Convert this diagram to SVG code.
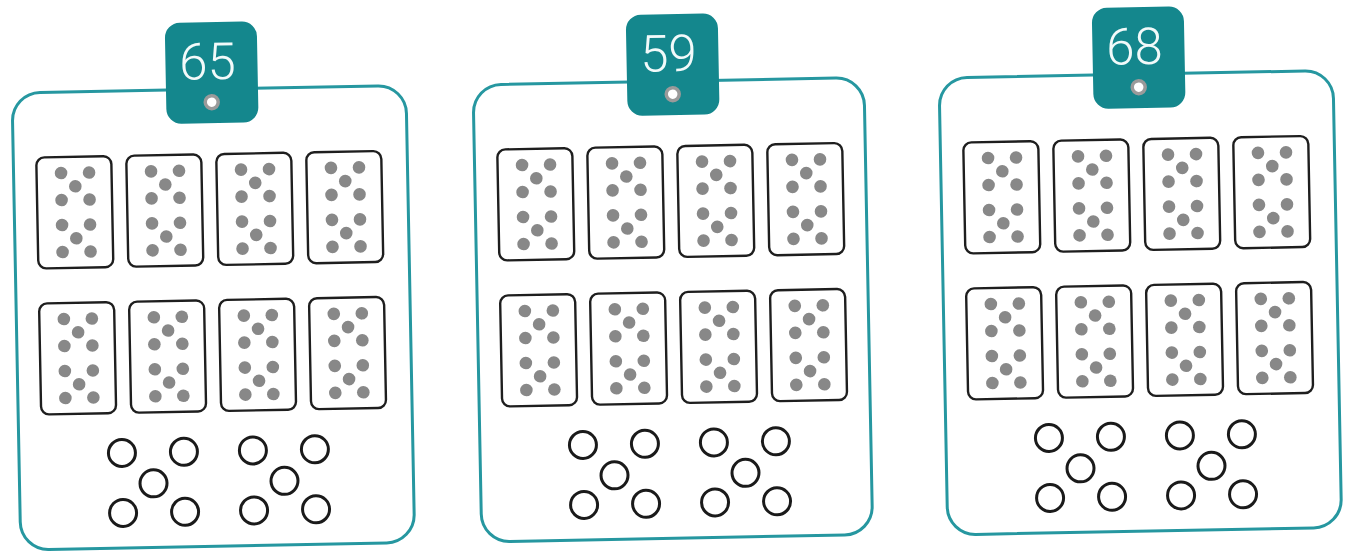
<svg xmlns="http://www.w3.org/2000/svg" width="1348" height="551" viewBox="0 0 1348 551">
<style>
.frame{fill:#fff;stroke:#2697a0;stroke-width:3}
.tag{fill:#14878d}
.num{font-family:Roboto,"Liberation Sans",sans-serif;font-size:51px;font-weight:300;fill:#f2fafa;text-anchor:middle}
.card{fill:#fff;stroke:#1e1e1e;stroke-width:2.4}
.dot{fill:#888}
.ring{fill:none;stroke:#1a1a1a;stroke-width:3}
.eye{fill:#fff;stroke:#9a9a9a;stroke-width:3.5}
</style>
<defs>
<g id="card">
<rect class="card" x="0" y="0" width="75" height="111" rx="8"/>
<g class="dot">
<circle cx="24.5" cy="16" r="6.3"/><circle cx="52.5" cy="16" r="6.3"/><circle cx="38.5" cy="29.5" r="6.3"/><circle cx="24.5" cy="43" r="6.3"/><circle cx="52.5" cy="43" r="6.3"/>
<circle cx="24.5" cy="68" r="6.3"/><circle cx="52.5" cy="68" r="6.3"/><circle cx="38.5" cy="81.5" r="6.3"/><circle cx="24.5" cy="95" r="6.3"/><circle cx="52.5" cy="95" r="6.3"/>
</g>
</g>
<g id="quin" class="ring">
<circle cx="-31" cy="-31" r="13.5"/><circle cx="31" cy="-31" r="13.5"/><circle cx="0" cy="0" r="13.5"/><circle cx="-31" cy="29" r="13.5"/><circle cx="31" cy="29" r="13.5"/>
</g>
<g id="content">
<use href="#card" x="23" y="65"/><use href="#card" x="113" y="65"/><use href="#card" x="203" y="65"/><use href="#card" x="293" y="65"/>
<use href="#card" x="23" y="211"/><use href="#card" x="113" y="211"/><use href="#card" x="203" y="211"/><use href="#card" x="293" y="211"/>
<use href="#quin" x="134" y="393"/><use href="#quin" x="265" y="393"/>
</g>
</defs>
<rect width="1348" height="551" fill="#fff"/>
<g id="panel-65" transform="translate(12,93) rotate(-1.1)">
<rect class="frame" x="0" y="0" width="394" height="457" rx="28"/>
<use href="#content"/>
<rect class="tag" x="154" y="-67" width="92" height="101" rx="15"/>
<text class="num" x="196" y="-10">65</text>
<circle class="eye" cx="199.5" cy="13" r="6.5"/>
</g>
<g id="panel-59" transform="translate(473,85) rotate(-1.1)">
<rect class="frame" x="0" y="0" width="391" height="457" rx="28"/>
<use href="#content"/>
<rect class="tag" x="154" y="-67" width="92" height="101" rx="15"/>
<text class="num" x="196" y="-10">59</text>
<circle class="eye" cx="199.5" cy="13" r="6.5"/>
</g>
<g id="panel-68" transform="translate(939,78) rotate(-1.1)">
<rect class="frame" x="0" y="0" width="394" height="457" rx="28"/>
<use href="#content"/>
<rect class="tag" x="154" y="-67" width="92" height="101" rx="15"/>
<text class="num" x="196" y="-10">68</text>
<circle class="eye" cx="199.5" cy="13" r="6.5"/>
</g>
</svg>
